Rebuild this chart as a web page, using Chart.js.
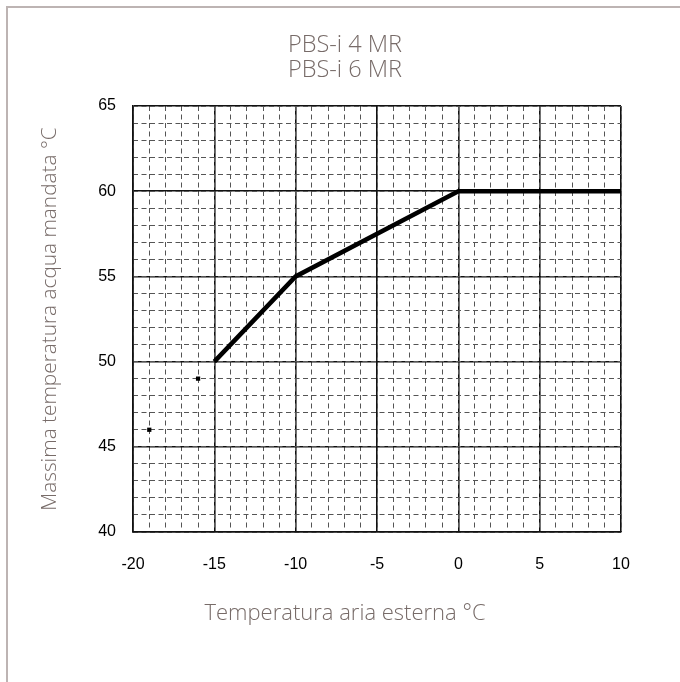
<!DOCTYPE html>
<html>
<head>
   <meta charset="UTF-8">
   <title>PBS-i 4 MR / PBS-i 6 MR</title>
   <script src="https://cdn.jsdelivr.net/npm/chart.js"></script>
   <style>
       body {
           margin: 0;
           background: white;
           overflow: hidden;
       }
       .wrap {
           position: relative;
           width: 680px;
           height: 682px;
           overflow: hidden;
       }
       .frame {
           position: absolute;
           left: 6px;
           top: 6px;
           width: 800px;
           height: 800px;
           border: 2px solid #bdb4b3;
       }
       canvas {
           position: absolute;
           left: 0;
           top: 0;
       }
   </style>
</head>
<body>
   <div class="wrap">
       <div class="frame"></div>
       <canvas id="grafik" width="680" height="682"></canvas>
   </div>

   <script>
       // Dati
       const titoli = ['PBS-i 4 MR', 'PBS-i 6 MR'];
       const tempEsterna = [-15, -10, 0, 10];
       const tempMandata = [50, 55, 60, 60];
       const puntiX = [-19, -16];
       const puntiY = [46, 49];
       const asseX = { min: -20, max: 10, passo: 5 };
       const asseY = { min: 40, max: 65, passo: 5 };

       const grigioTesto = '#776b68';
       const fontTitoli = "'Open Sans', 'Lato', sans-serif";

       const curva = tempEsterna.map((x, i) => ({ x: x, y: tempMandata[i] }));
       const punti = puntiX.map((x, i) => ({ x: x, y: puntiY[i] }));

       const ctx = document.getElementById('grafik').getContext('2d');
       new Chart(ctx, {
           type: 'line',
           data: {
               datasets: [{
                   data: curva,
                   borderColor: '#000',
                   borderWidth: 4.5,
                   pointRadius: 0,
                   tension: 0
               }, {
                   type: 'scatter',
                   data: punti,
                   backgroundColor: '#000',
                   borderColor: '#000',
                   pointStyle: 'rect',
                   pointRadius: 3,
                   borderWidth: 0
               }]
           },
           options: {
               responsive: false,
               animation: false,
               events: [],
               layout: {
                   padding: { left: 10, right: 0, top: 0, bottom: 0 }
               },
               plugins: {
                   legend: { display: false },
                   tooltip: { enabled: false },
                   title: {
                       display: true,
                       text: titoli,
                       color: grigioTesto,
                       font: { family: fontTitoli, size: 23.5, weight: 300, lineHeight: '25px' },
                       padding: { top: 32.5, bottom: 23.5 }
                   },
                   subtitle: {
                       display: true,
                       position: 'bottom',
                       text: 'Temperatura aria esterna °C',
                       color: grigioTesto,
                       font: { family: fontTitoli, size: 22, weight: 300, lineHeight: 1.2 },
                       padding: { top: 18.8, bottom: 54.8 }
                   }
               },
               scales: {
                   x: {
                       type: 'linear',
                       position: 'bottom',
                       min: asseX.min,
                       max: asseX.max,
                       ticks: {
                           stepSize: asseX.passo,
                           color: '#000',
                           padding: 23,
                           font: { family: 'Liberation Sans, Arial', size: 16 }
                       },
                       grid: { color: '#111', lineWidth: 1.6, drawTicks: false },
                       border: { color: '#111', width: 1.6 },
                       afterFit: s => { s.height = 50; }
                   },
                   xm: {
                       type: 'linear',
                       position: 'bottom',
                       min: asseX.min,
                       max: asseX.max,
                       ticks: { stepSize: 1, display: false },
                       grid: { color: '#555', lineWidth: 1, drawTicks: false },
                       border: { display: false, dash: [5, 3.5] },
                       afterFit: s => { s.height = 0; }
                   },
                   y: {
                       position: 'left',
                       min: asseY.min,
                       max: asseY.max,
                       ticks: {
                           stepSize: asseY.passo,
                           color: '#000',
                           padding: 17,
                           font: { family: 'Liberation Sans, Arial', size: 16 }
                       },
                       grid: { color: '#111', lineWidth: 1.6, drawTicks: false },
                       border: { color: '#111', width: 1.6 },
                       title: {
                           display: true,
                           text: 'Massima temperatura acqua mandata °C',
                           color: grigioTesto,
                           font: { family: fontTitoli, size: 20.8, weight: 300, lineHeight: 1.2 },
                           padding: { top: 27.5, bottom: 0 }
                       },
                       afterFit: s => { s.width = 123; }
                   },
                   ym: {
                       position: 'left',
                       min: asseY.min,
                       max: asseY.max,
                       ticks: { stepSize: 1, display: false },
                       grid: { color: '#555', lineWidth: 1, drawTicks: false },
                       border: { display: false, dash: [5, 3.5] },
                       afterFit: s => { s.width = 0; }
                   },
                   yr: {
                       position: 'right',
                       min: asseY.min,
                       max: asseY.max,
                       ticks: { display: false },
                       grid: { display: false, drawTicks: false },
                       border: { display: false },
                       afterFit: s => { s.width = 59; }
                   }
               }
           }
       });
   </script>
</body>
</html>
